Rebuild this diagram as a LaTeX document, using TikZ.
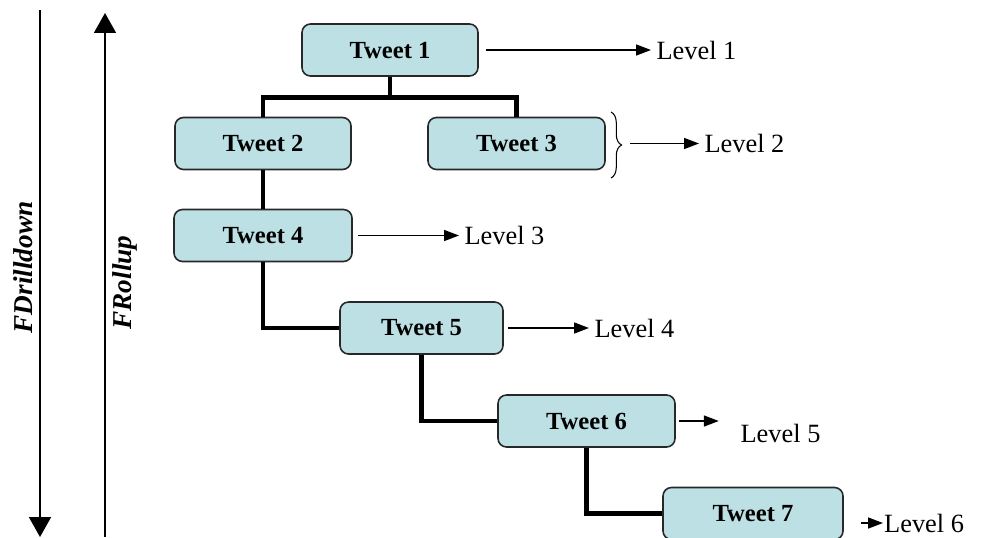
\documentclass[tikz,border=0pt]{standalone}
\usepackage{fontspec}
\setmainfont{Liberation Serif}
\usepackage{tikz}
\usepackage{xcolor}
\usetikzlibrary{arrows.meta,decorations.pathreplacing}
\definecolor{tweetblue}{RGB}{188,224,228}
\definecolor{boxedge}{RGB}{40,40,40}
\tikzstyle{tweetbox}=[draw=boxedge,line width=0.9pt,fill=tweetblue,rounded corners=0.17cm,minimum height=1.04cm,font=\fontsize{14}{16}\selectfont\bfseries]
\tikzstyle{tree}=[line width=2.8pt]
\tikzstyle{lvl}=[anchor=west,inner sep=3pt,font=\fontsize{15}{18}\selectfont]
\tikzstyle{lvlarrow}=[line width=0.9pt,-{Triangle[length=0.3cm,width=0.22cm]}]
\tikzstyle{bigarrow}=[line width=1pt,-{Triangle[length=0.4cm,width=0.44cm]}]

\begin{document}
\begin{tikzpicture}
		\useasboundingbox (0,0) rectangle (19.7,-10.74);
		
		\begin{scope}
			\coordinate (drillTop) at (0.8,-0.2);
			\coordinate (drillEnd) at (0.8,-10.74);
			\coordinate (rollBot) at (2.1,-10.74);
			\coordinate (rollEnd) at (2.1,-0.26);
			\draw[bigarrow] (drillTop) -- (drillEnd);
			\draw[bigarrow] (rollBot) -- (rollEnd);
			\node[rotate=90, font=\fontsize{15.5}{18}\selectfont\bfseries\itshape] (drillLabel) at (0.46,-5.35) {FDrilldown};
			\node[rotate=90, font=\fontsize{15.5}{18}\selectfont\bfseries\itshape] (rollLabel) at (2.5,-5.65) {FRollup};
		\end{scope}
		
		\node[tweetbox, minimum width=3.52cm] (tweetA) at (7.8,-1.0) {Tweet 1};
		\node[tweetbox, minimum width=3.52cm] (tweetB) at (5.26,-2.87) {Tweet 2};
		\node[tweetbox, minimum width=3.54cm] (tweetC) at (10.33,-2.87) {Tweet 3};
		\node[tweetbox, minimum width=3.56cm] (tweetD) at (5.26,-4.71) {Tweet 4};
		\node[tweetbox, minimum width=3.26cm] (tweetE) at (8.43,-6.56) {Tweet 5};
		\node[tweetbox, minimum width=3.54cm] (tweetF) at (11.73,-8.42) {Tweet 6};
		\node[tweetbox, minimum width=3.6cm] (tweetG) at (15.06,-10.27) {Tweet 7};
		
		\draw[tree] (tweetA.south) -- ++(0,-0.42) coordinate (fork);
		\draw[tree] (tweetB.north) |- (fork) -| (tweetC.north);
		\draw[tree] (tweetB.south) -- (tweetD.north);
		\draw[tree] (tweetD.south) |- (tweetE.west);
		\draw[tree] (tweetE.south) |- (tweetF.west);
		\draw[tree] (tweetF.south) |- (tweetG.west);
		
		\node[lvl] (levelA) at (13.02,-1.0) {Level 1};
		\node[lvl] (levelB) at (13.98,-2.87) {Level 2};
		\node[lvl] (levelC) at (9.18,-4.71) {Level 3};
		\node[lvl] (levelD) at (11.78,-6.56) {Level 4};
		\node[lvl] (levelE) at (14.7,-8.66) {Level 5};
		\node[lvl, inner sep=0.5pt] (levelF) at (17.66,-10.46) {Level 6};
		
		\draw[decorate,decoration={brace,amplitude=6pt},line width=0.6pt] (12.22,-2.24) -- (12.22,-3.56) coordinate[pos=0.5] (braceTip);
		\coordinate (braceMid) at (12.6,-2.87);
		
		\draw[lvlarrow] ([xshift=0.14cm]tweetA.east) -- (levelA.west);
		\draw[lvlarrow] (braceMid) -- (levelB.west);
		\draw[lvlarrow] ([xshift=0.1cm]tweetD.east) -- (levelC.west);
		\draw[lvlarrow] ([xshift=0.08cm]tweetE.east) -- (levelD.west);
		\draw[lvlarrow] ([xshift=0.06cm]tweetF.east) -- ++(0.8,0) coordinate (arrowEnd);
		\draw[lvlarrow] (17.22,-10.46) coordinate (arrowStart) -- (levelF.west |- arrowStart);
\end{tikzpicture}
\end{document}
